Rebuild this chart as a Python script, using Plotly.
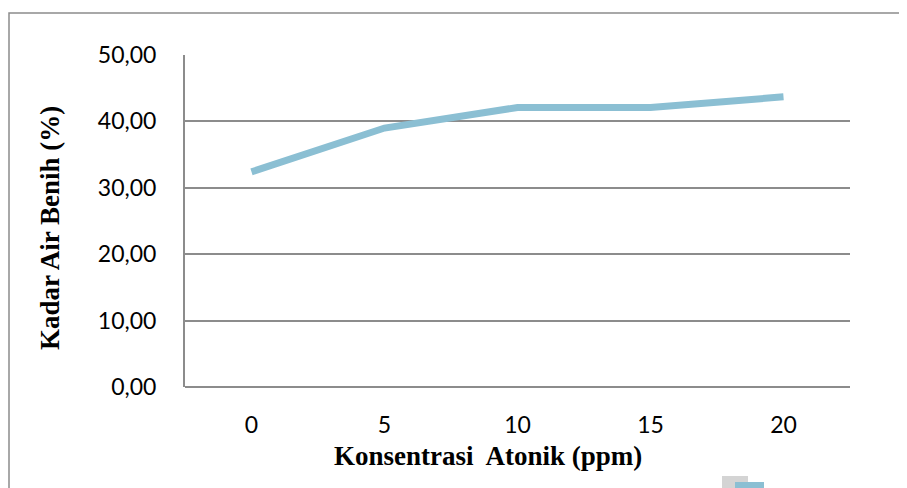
import plotly.graph_objects as go

# data
konsentrasi = ["0", "5", "10", "15", "20"]
kadar_air = [32.4, 39.0, 42.1, 42.1, 43.7]
y_ticks = [0, 10, 20, 30, 40, 50]
y_tick_labels = ["0,00", "10,00", "20,00", "30,00", "40,00", "50,00"]

W, H = 907, 488
OFF = 8  # page body margin
# plot area in screen pixels
SX0, SX1, SY0, SY1 = 185, 850, 55, 387
L, T = SX0 - OFF, SY0 - OFF
R, B = W - (SX1 - OFF), H - (SY1 - OFF)

def px(x):
    return (x - SX0) / (SX1 - SX0)

def py(y):
    return (SY1 - y) / (SY1 - SY0)

fig = go.Figure()
fig.add_trace(go.Scatter(
    x=konsentrasi, y=kadar_air, mode="lines",
    line=dict(color="#8BBFD3", width=7),
    showlegend=False, hoverinfo="skip"
))

grid = "#8c8c8c"
serif = "Liberation Serif, Times New Roman, serif"
fig.update_layout(
    width=W, height=H,
    margin=dict(l=L, r=R, t=T, b=B),
    plot_bgcolor="white", paper_bgcolor="white",
    font=dict(family="Lato, Open Sans, sans-serif", size=23, color="black"),
    xaxis=dict(
        type="category", range=[-0.5, 4.5], showgrid=False, zeroline=False,
        showline=False, ticks="", ticklabelstandoff=22,
    ),
    yaxis=dict(
        range=[0, 50], tickvals=y_ticks, ticktext=y_tick_labels,
        showgrid=True, gridcolor=grid, gridwidth=2, zeroline=False,
        showline=True, linecolor=grid, linewidth=2, ticks="",
        ticklabelstandoff=22,
    ),
    shapes=[
        # outer chart border
        dict(type="rect", xref="paper", yref="paper",
             x0=px(9), x1=px(920), y0=py(510), y1=py(13),
             line=dict(color="#8c8c8c", width=1.5), layer="below"),
        # bottom gridline (0,00)
        dict(type="line", xref="paper", yref="paper",
             x0=0, x1=1, y0=0, y1=0, line=dict(color=grid, width=2)),
        # cut-off legend marker with shadow
        dict(type="rect", xref="paper", yref="paper",
             x0=px(722), x1=px(748), y0=py(495), y1=py(476),
             fillcolor="rgba(160,160,160,0.45)", line=dict(width=0)),
        dict(type="rect", xref="paper", yref="paper",
             x0=px(735), x1=px(764), y0=py(495), y1=py(482),
             fillcolor="#8BBFD3", line=dict(width=0)),
    ],
    annotations=[
        dict(text="<b>Konsentrasi  Atonik (ppm)</b>", xref="paper", yref="paper",
             x=px(488), y=py(456), xanchor="center", yanchor="middle",
             showarrow=False, font=dict(family=serif, size=27)),
        dict(text="<b>Kadar Air Benih (%)</b>", xref="paper", yref="paper",
             x=px(50), y=py(228), xanchor="center", yanchor="middle",
             showarrow=False, textangle=-90,
             font=dict(family=serif, size=27)),
    ],
)

fig.write_html("out.html")
